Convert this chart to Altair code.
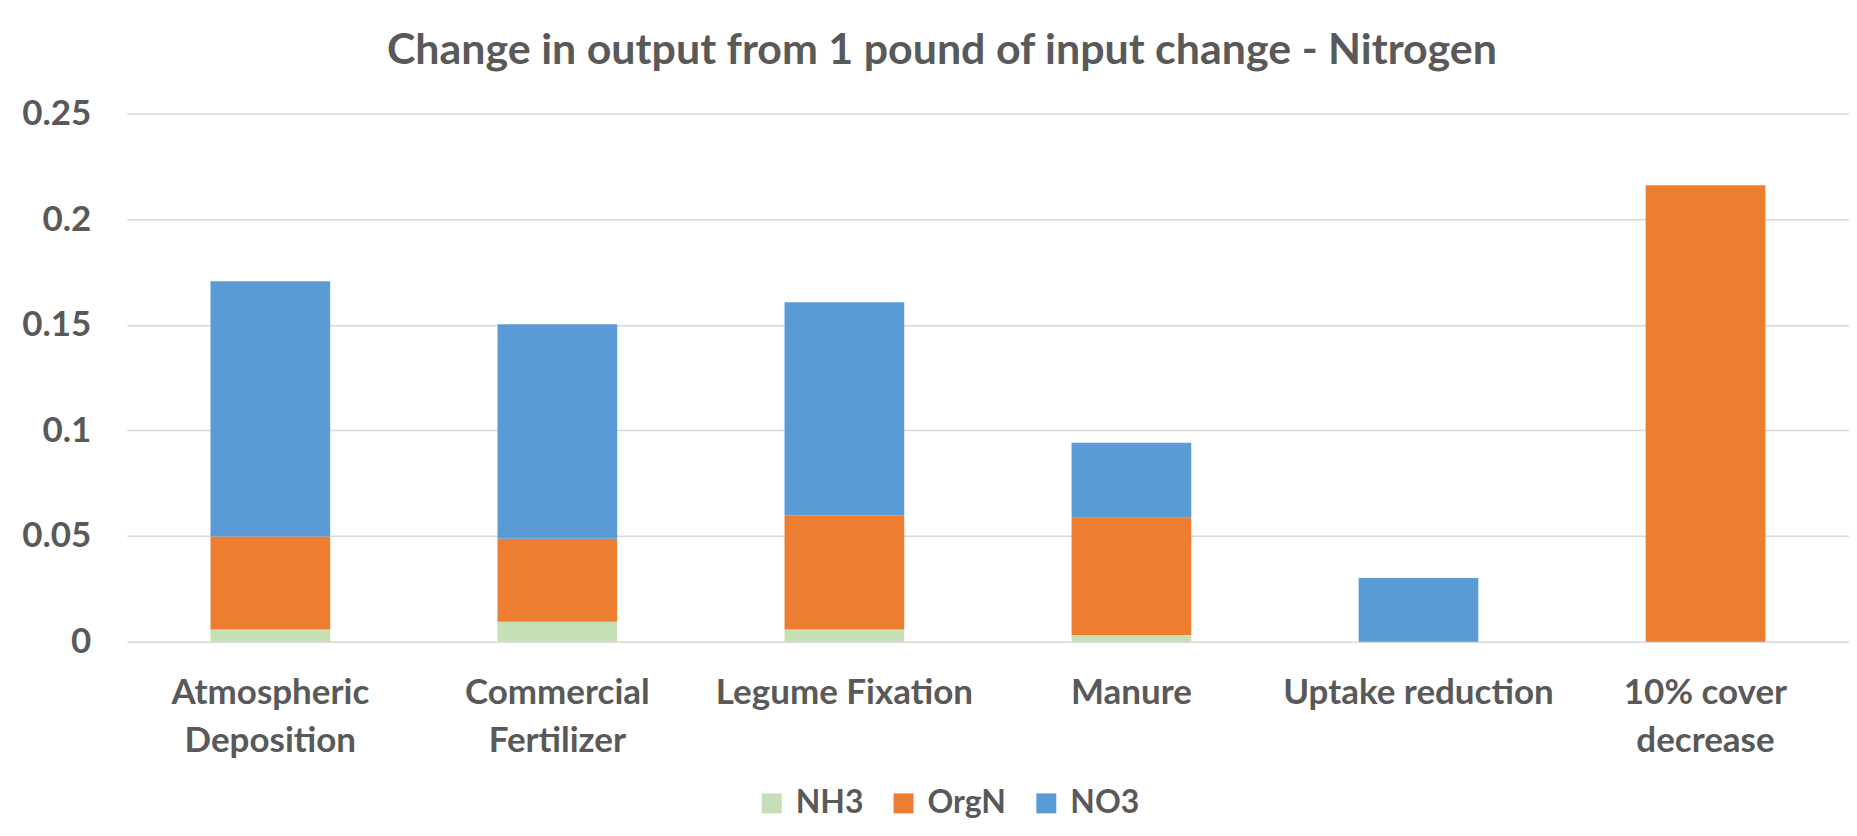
import altair as alt
import pandas as pd

# ---- data ----
categories = ["Atmospheric Deposition", "Commercial Fertilizer", "Legume Fixation",
              "Manure", "Uptake reduction", "10% cover decrease"]
label_lines = [["Atmospheric", "Deposition"], ["Commercial", "Fertilizer"], ["Legume Fixation"],
               ["Manure"], ["Uptake reduction"], ["10% cover", "decrease"]]
series = ["NH3", "OrgN", "NO3"]
nh3 = [0.0057, 0.0094, 0.0057, 0.0031, 0.0, 0.0]
orgn = [0.0441, 0.0393, 0.0540, 0.0555, 0.0, 0.2160]
no3 = [0.1208, 0.1015, 0.1010, 0.0356, 0.0301, 0.0]
colors = ["#C5E0B4", "#ED7D31", "#5B9BD5"]
y_ticks = [0, 0.05, 0.1, 0.15, 0.2, 0.25]
title_text = "Change in output from 1 pound of input change - Nitrogen"

FONT = "Lato"
TXT = "#595959"

rows = []
for si, (name, vals) in enumerate(zip(series, [nh3, orgn, no3])):
    for c, v in zip(categories, vals):
        rows.append({"category": c, "series": name, "value": v, "order": si})
df = pd.DataFrame(rows)

# multi-line x labels
expr = ""
for c, lines in zip(categories, label_lines):
    arr = "[" + ",".join("'" + l + "'" for l in lines) + "]"
    expr += f"datum.value == '{c}' ? {arr} : "
expr += "datum.label"

chart = alt.Chart(df).mark_bar().encode(
    x=alt.X("category:N", sort=categories,
            scale=alt.Scale(paddingInner=0.583, paddingOuter=0.2915),
            axis=alt.Axis(title=None, labelAngle=0, labelExpr=expr, labelFont=FONT,
                          labelFontSize=35, labelFontWeight="bold", labelColor=TXT,
                          labelPadding=34, labelLineHeight=48, ticks=False, domain=False,
                          labelBaseline="top", labelLimit=0, labelOverlap=False)),
    y=alt.Y("value:Q", stack="zero",
            scale=alt.Scale(domain=[0, 0.25], nice=False),
            axis=alt.Axis(title=None, values=y_ticks, format="~g", labelFont=FONT,
                          labelFontSize=35, labelFontWeight="bold", labelColor=TXT,
                          labelPadding=36, ticks=False, tickSize=0, domain=False,
                          grid=True, gridColor="#D9D9D9", gridWidth=1.5)),
    color=alt.Color("series:N", scale=alt.Scale(domain=series, range=colors),
                    legend=alt.Legend(title=None, orient="none", legendX=630, legendY=675,
                                      direction="horizontal", symbolType="square",
                                      symbolSize=400, symbolStrokeWidth=0,
                                      labelFont=FONT, labelFontSize=32,
                                      labelFontWeight="bold", labelColor=TXT,
                                      labelOffset=8, columnPadding=24, symbolOpacity=1)),
    order=alt.Order("order:Q", sort="ascending"),
).properties(
    width=1725,
    height=529,
    title=alt.TitleParams(title_text, font=FONT, fontSize=43, fontWeight="bold",
                          color=TXT, anchor="middle", dx=-46, dy=46, offset=36,
                          baseline="alphabetic"),
    autosize=alt.AutoSizeParams(type="none"),
    padding={"left": 119, "top": 105, "right": 0, "bottom": 186},
    background="white",
).configure_view(stroke=None)

chart.save("out.html", embed_options={"renderer": "svg", "actions": False})
